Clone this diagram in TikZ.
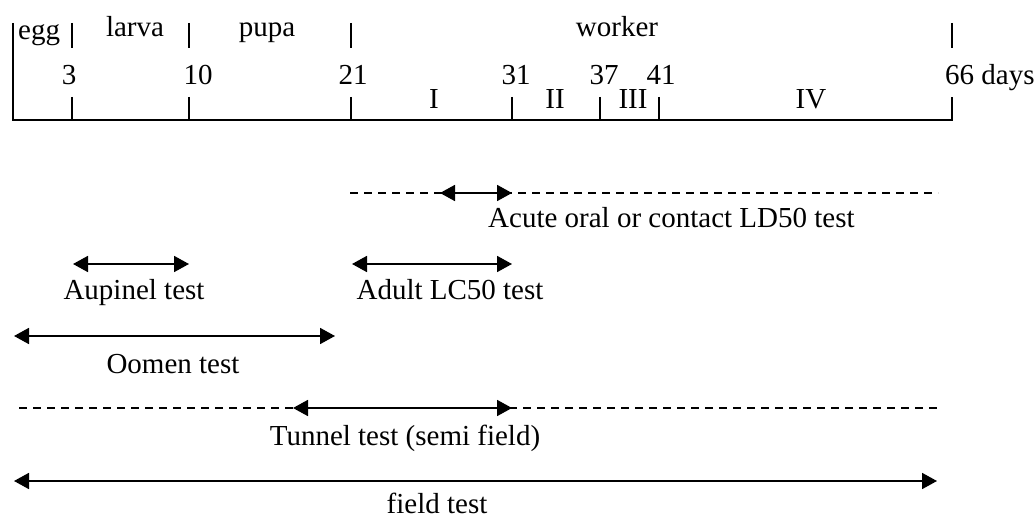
\documentclass[tikz,border=0pt]{standalone}
\usepackage{fontspec}
\setmainfont{Liberation Serif}
\usetikzlibrary{arrows.meta}
\begin{document}
\begin{tikzpicture}[x=1pt,y=-1pt,
  lbl/.style={font=\fontsize{29}{34}\selectfont, inner sep=0pt, anchor=base},
  axis/.style={line width=1.8pt},
  span/.style={line width=1.8pt,
    {Triangle[length=15pt,width=16pt]}-{Triangle[length=15pt,width=16pt]}},
  dashrange/.style={line width=1.8pt, dash pattern=on 8pt off 6pt}]
\useasboundingbox (0,0) rectangle (1035,518);

% --- time axis (days) ---
\coordinate (top0) at (13,23);
\coordinate (d0)  at (13,120);
\coordinate (d66) at (952,120);
\draw[axis] (top0) -- (d0) -- (d66) -- (952,97);
\foreach \x in {72,189,351,512,600,659}
  \draw[axis] (\x,97) -- (\x,120);
\foreach \x in {72,189,351,952}
  \draw[axis] (\x,23) -- (\x,48);

% stage names
\node[lbl, anchor=base west] (egg) at (18,40) {egg};
\node[lbl] (larva)  at (135,37) {larva};
\node[lbl] (pupa)   at (267,37) {pupa};
\node[lbl] (worker) at (617,37) {worker};

% day numbers
\node[lbl] (n3)  at (69,85)  {3};
\node[lbl] (n10) at (198,85) {10};
\node[lbl] (n21) at (353,85) {21};
\node[lbl] (n31) at (516,85) {31};
\node[lbl] (n37) at (604,85) {37};
\node[lbl] (n41) at (661,85) {41};
\node[lbl, anchor=base west] (n66) at (945,85) {66 days};

% worker phases
\node[lbl] (pI)   at (434,109) {I};
\node[lbl] (pII)  at (555,109) {II};
\node[lbl] (pIII) at (633,109) {III};
\node[lbl] (pIV)  at (811,109) {IV};

% --- acute oral / contact test ---
\coordinate (acDL) at (350,193);
\coordinate (acDR) at (938,193);
\coordinate (acL)  at (440,193);
\coordinate (acR)  at (512,193);
\draw[dashrange] (acDL) -- (acDR);
\draw[span] (acL) -- (acR);
\node[lbl, anchor=base west] (tAcute) at (488,228) {Acute oral or contact LD50 test};

% --- Aupinel test ---
\coordinate (auL) at (73,264);
\coordinate (auR) at (189,264);
\draw[span] (auL) -- (auR);
\node[lbl] (tAupinel) at (134,300) {Aupinel test};

% --- adult LC50 test ---
\coordinate (adL) at (352,264);
\coordinate (adR) at (512,264);
\draw[span] (adL) -- (adR);
\node[lbl] (tAdult) at (450,300) {Adult LC50 test};

% --- Oomen test ---
\coordinate (ooL) at (14,336);
\coordinate (ooR) at (335,336);
\draw[span] (ooL) -- (ooR);
\node[lbl] (tOomen) at (173,373) {Oomen test};

% --- tunnel test ---
\coordinate (tuDL) at (19,408);
\coordinate (tuDR) at (938,408);
\coordinate (tuL)  at (293,408);
\coordinate (tuR)  at (512,408);
\draw[dashrange] (tuDL) -- (tuDR);
\draw[span] (tuL) -- (tuR);
\node[lbl] (tTunnel) at (405,445) {Tunnel test (semi field)};

% --- field test ---
\coordinate (fiL) at (14,481);
\coordinate (fiR) at (937,481);
\draw[span] (fiL) -- (fiR);
\node[lbl] (tField) at (437,513) {field test};
\end{tikzpicture}
\end{document}
